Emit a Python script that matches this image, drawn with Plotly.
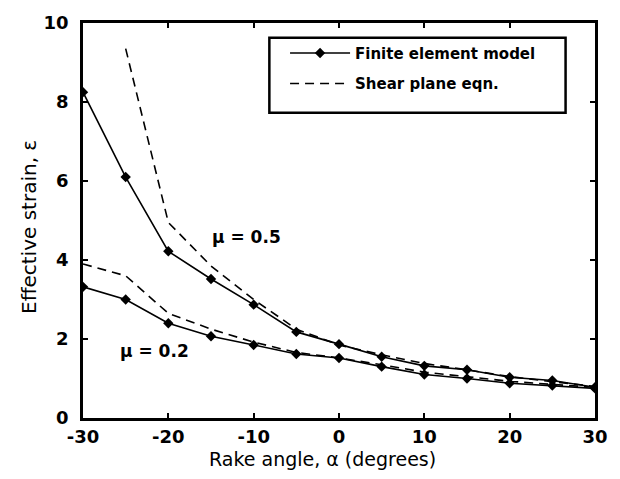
import plotly.graph_objects as go

# Rake angle samples (degrees)
rake = [-30, -25, -20, -15, -10, -5, 0, 5, 10, 15, 20, 25, 30]

# Finite element model results
fe_mu05 = [8.25, 6.1, 4.22, 3.52, 2.87, 2.18, 1.87, 1.55, 1.32, 1.22, 1.03, 0.95, 0.78]
fe_mu02 = [3.32, 3.0, 2.4, 2.07, 1.85, 1.62, 1.52, 1.3, 1.1, 1.0, 0.88, 0.82, 0.75]

# Shear plane equation (mu = 0.5 curve leaves the axes below -25 deg)
rake_sp05 = [-25, -20, -15, -10, -5, 0, 5, 10, 15, 20, 25, 30]
sp_mu05 = [9.35, 4.95, 3.85, 3.0, 2.25, 1.85, 1.6, 1.38, 1.22, 1.05, 0.92, 0.8]
sp_mu02 = [3.9, 3.6, 2.65, 2.25, 1.92, 1.66, 1.52, 1.35, 1.16, 1.05, 0.93, 0.85, 0.78]

x_ticks = [-30, -20, -10, 0, 10, 20, 30]
x_labels = ["-30", "-20", "-10", "0", "10", "20", "30"]
y_ticks = [0, 2, 4, 6, 8, 10]

FONT = "DejaVu Sans, sans-serif"
BLACK = "#000000"

# Plot-area geometry in pixels (used to place the axis titles and legend frame)
W, H = 620, 479
ML, MR, MT, MB = 83, 15, 17, 61
PW, PH = W - ML - MR, H - MT - MB


def px_x(px):
    return (px - ML) / PW


def px_y(py):
    return (H - MB - py) / PH


fig = go.Figure()

fig.add_trace(go.Scatter(
    x=rake, y=fe_mu05, mode="lines+markers", name="Finite element model",
    line=dict(color=BLACK, width=1.6),
    marker=dict(symbol="diamond", size=8, color=BLACK),
    legendgroup="fe", legendrank=1,
))
fig.add_trace(go.Scatter(
    x=rake_sp05, y=sp_mu05, mode="lines", name="Shear plane eqn.",
    line=dict(color=BLACK, width=1.6, dash="9px,6px"),
    legendgroup="sp", legendrank=2,
))
fig.add_trace(go.Scatter(
    x=rake, y=fe_mu02, mode="lines+markers", showlegend=False,
    line=dict(color=BLACK, width=1.6),
    marker=dict(symbol="diamond", size=8, color=BLACK),
    legendgroup="fe",
))
fig.add_trace(go.Scatter(
    x=rake, y=sp_mu02, mode="lines", showlegend=False,
    line=dict(color=BLACK, width=1.6, dash="9px,6px"),
    legendgroup="sp",
))

axis_common = dict(
    showgrid=False, zeroline=False, showline=True, linecolor=BLACK, linewidth=2.5,
    mirror="ticks", ticks="inside", ticklen=5, tickwidth=2, tickcolor=BLACK,
    tickfont=dict(family=FONT, size=18, color=BLACK, weight="bold"),
)

fig.update_xaxes(range=[-30, 30], tickvals=x_ticks, ticktext=x_labels,
                 ticklabelstandoff=1, **axis_common)
fig.update_yaxes(range=[0, 10], tickvals=y_ticks, ticklabelstandoff=8, **axis_common)

fig.add_annotation(x=-10.8, y=4.57, text="<b>\u03bc = 0.5</b>", showarrow=False,
                   font=dict(family=FONT, size=17, color=BLACK))
fig.add_annotation(x=-21.6, y=1.7, text="<b>\u03bc = 0.2</b>", showarrow=False,
                   font=dict(family=FONT, size=17, color=BLACK))

# Axis titles
fig.add_annotation(x=px_x(327), y=px_y(460), xref="paper", yref="paper",
                   xanchor="center", yanchor="middle",
                   text="Rake angle, \u03b1 (degrees)", showarrow=False,
                   font=dict(family=FONT, size=19, color=BLACK))
fig.add_annotation(x=px_x(28), y=px_y(224), xref="paper", yref="paper",
                   xanchor="center", yanchor="middle",
                   text="Effective strain, \u03b5", showarrow=False, textangle=-90,
                   font=dict(family=FONT, size=20, color=BLACK))

# Legend frame
fig.add_shape(type="rect", xref="paper", yref="paper",
              x0=px_x(273), x1=px_x(575), y0=px_y(108), y1=px_y(32),
              line=dict(color=BLACK, width=2.5), fillcolor="white", layer="below")

fig.update_layout(
    width=W, height=H,
    margin=dict(l=ML, r=MR, t=MT, b=MB),
    paper_bgcolor="white", plot_bgcolor="white",
    font=dict(family=FONT, color=BLACK),
    showlegend=True,
    legend=dict(
        x=px_x(289), y=px_y(31), xanchor="left", yanchor="top",
        bgcolor="rgba(0,0,0,0)", borderwidth=0,
        font=dict(family=FONT, size=15, color=BLACK, weight="bold"),
        tracegroupgap=8, itemwidth=60,
    ),
)

fig.write_html("out.html")
